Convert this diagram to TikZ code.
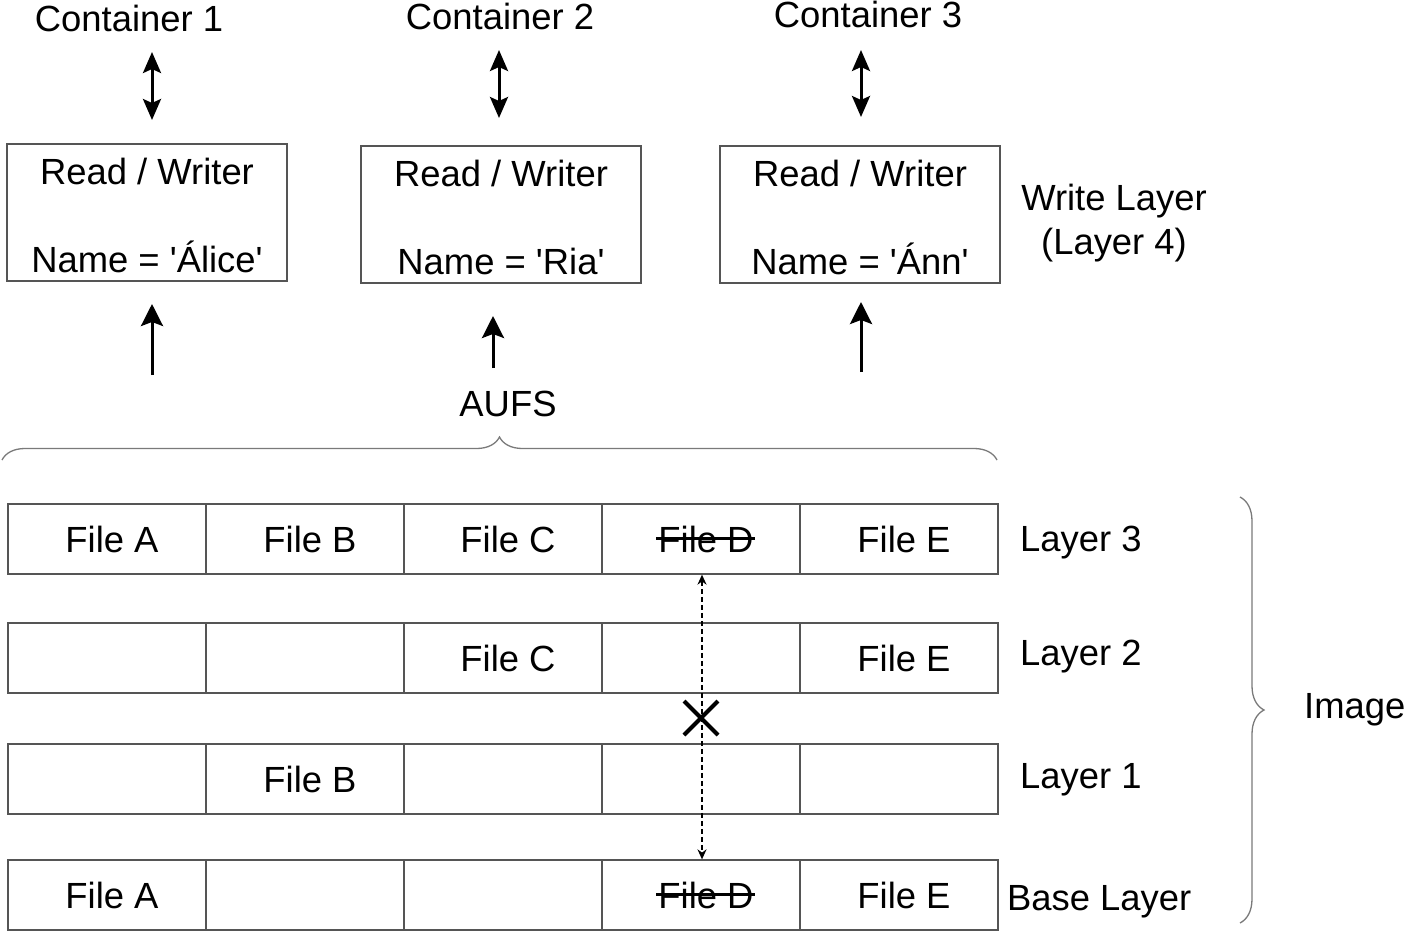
\documentclass[tikz,border=0pt]{standalone}
\usepackage{fontspec}
\setmainfont{Liberation Sans}
\usetikzlibrary{arrows.meta,decorations.pathreplacing,shapes.misc}
\definecolor{boxgray}{HTML}{555555}
\definecolor{bracegray}{HTML}{7A7A7A}
\newcommand{\sq}{\textquotesingle}
\newsavebox{\strkbox}
\newcommand{\strk}[1]{\sbox{\strkbox}{#1}\rlap{\kern-2pt\raisebox{12pt}{\rule{\dimexpr\wd\strkbox+3pt\relax}{3pt}}}\usebox{\strkbox}}
\begin{document}
\begin{tikzpicture}[x=1pt,y=-1pt,
  font=\fontsize{36.4}{44}\selectfont,
  lbl/.style={inner sep=0pt, anchor=base},
  lblw/.style={inner sep=0pt, anchor=base west},
  rwbox/.style={draw=boxgray, line width=1.3pt, minimum width=280pt, minimum height=137pt, align=center, inner sep=0pt},
  cell/.style={draw=boxgray, line width=1.3pt, minimum width=198pt, minimum height=70pt, inner sep=0pt, text height=26pt, text depth=0pt, execute at begin node={\hspace*{10pt}}},
  dblarrow/.style={line width=3pt, {Stealth[length=21pt,width=18pt,inset=4pt]}-{Stealth[length=21pt,width=18pt,inset=4pt]}},
  uparrow/.style={line width=3pt, -{Stealth[length=22pt,width=22pt,inset=4pt]}},
  dotarrow/.style={line width=1.8pt, dash pattern=on 5pt off 3pt, {Stealth[length=10pt,width=9pt]}-{Stealth[length=10pt,width=9pt]}},
  bracestyle/.style={draw=bracegray, line width=1.3pt, decorate}
]
\useasboundingbox (0,0) rectangle (1406,932);

% container labels
\node[lbl] (cont1) at (129,31) {Container 1};
\node[lbl] (cont2) at (500,29) {Container 2};
\node[lbl] (cont3) at (868,27) {Container 3};

% read/writer boxes
\node[rwbox] (rw1) at (147,212.5) {\rule{0pt}{33pt}Read / Writer\\[44pt]Name = \sq Álice\sq};
\node[rwbox] (rw2) at (501,214.5) {\rule{0pt}{33pt}Read / Writer\\[44pt]Name = \sq Ria\sq};
\node[rwbox] (rw3) at (860,214.5) {\rule{0pt}{33pt}Read / Writer\\[44pt]Name = \sq Ánn\sq};

% double arrows
\coordinate (d1a) at (152,52);  \coordinate (d1b) at (152,120);
\coordinate (d2a) at (499,50);  \coordinate (d2b) at (499,118);
\coordinate (d3a) at (861,50);  \coordinate (d3b) at (861,117);
\draw[dblarrow] (d1a) -- (d1b);
\draw[dblarrow] (d2a) -- (d2b);
\draw[dblarrow] (d3a) -- (d3b);

% up arrows
\coordinate (u1a) at (152,375); \coordinate (u1b) at (152,304);
\coordinate (u2a) at (493,368); \coordinate (u2b) at (493,316);
\coordinate (u3a) at (861,372); \coordinate (u3b) at (861,302);
\draw[uparrow] (u1a) -- (u1b);
\draw[uparrow] (u2a) -- (u2b);
\draw[uparrow] (u3a) -- (u3b);

% write layer label
\node[inner sep=0pt, align=center] (wl) at (1114,223) {Write Layer\\(Layer 4)};

% AUFS and brace
\node[lbl] (aufs) at (508,416) {AUFS};
\coordinate (ba) at (2,460);
\coordinate (bb) at (997,460);
\draw[bracestyle, decoration={brace, amplitude=23pt}] (ba) -- (bb);

% Layer 3
\node[cell] (r3c1) at (107,539) {File A};
\node[cell] (r3c2) at (305,539) {File B};
\node[cell] (r3c3) at (503,539) {File C};
\node[cell] (r3c4) at (701,539) {\strk{File D}};
\node[cell] (r3c5) at (899,539) {File E};
% Layer 2
\node[cell] (r2c1) at (107,658) {};
\node[cell] (r2c2) at (305,658) {};
\node[cell] (r2c3) at (503,658) {File C};
\node[cell] (r2c4) at (701,658) {};
\node[cell] (r2c5) at (899,658) {File E};
% Layer 1
\node[cell] (r1c1) at (107,779) {};
\node[cell] (r1c2) at (305,779) {File B};
\node[cell] (r1c3) at (503,779) {};
\node[cell] (r1c4) at (701,779) {};
\node[cell] (r1c5) at (899,779) {};
% Base layer
\node[cell] (r0c1) at (107,895) {File A};
\node[cell] (r0c2) at (305,895) {};
\node[cell] (r0c3) at (503,895) {};
\node[cell] (r0c4) at (701,895) {\strk{File D}};
\node[cell] (r0c5) at (899,895) {File E};

% dotted arrow and cross
\draw[dotarrow] ([xshift=1pt]r3c4.south) -- ([xshift=1pt]r0c4.north);
\node[cross out, draw=black, line width=4pt, minimum size=30pt, inner sep=0pt] (xmark) at (701,718) {};

% layer labels
\node[lblw] (l3) at (1020,551) {Layer 3};
\node[lblw] (l2) at (1020,665) {Layer 2};
\node[lblw] (l1) at (1020,788) {Layer 1};
\node[lblw] (l0) at (1007,910) {Base Layer};

% image brace
\coordinate (ia) at (1240,497);
\coordinate (ib) at (1240,923);
\draw[bracestyle, decoration={brace, amplitude=24pt}] (ia) -- (ib);
\node[lblw] (img) at (1304,718) {Image};
\end{tikzpicture}
\end{document}
